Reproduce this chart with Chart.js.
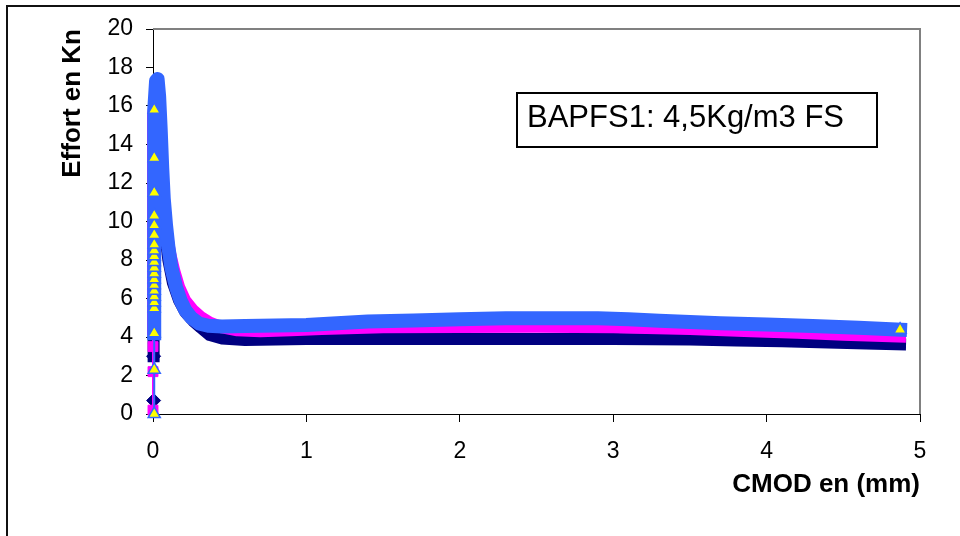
<!DOCTYPE html>
<html><head><meta charset="utf-8">
<script src="https://cdn.jsdelivr.net/npm/chart.js@4.4.1/dist/chart.umd.min.js"></script>
<style>html,body{margin:0;padding:0;background:#fff}#wrap{width:960px;height:536px}</style>
</head><body><div id="wrap"><canvas id="c" width="960" height="536"></canvas></div>
<script>
// Series 1 (navy diamonds)
const cmod1 = [0.004,0.004,0.004,0.004,0.004,0.004,0.015,0.03,0.045,0.06,0.08,0.10,0.13,0.17,0.21,0.26,0.31,0.37,0.45,0.6,0.8,1.0,1.5,2.0,2.5,3.0,3.5,3.8,4.1,4.4,4.65,4.87];
const effort1 = [0.7,3.0,5.5,8.5,11.5,14.0,15.3,15.0,13.2,11.3,9.3,8.0,6.8,5.9,5.3,4.85,4.5,4.1,3.92,3.85,3.87,3.9,3.9,3.9,3.9,3.9,3.87,3.82,3.78,3.72,3.66,3.62];
// Series 2 (magenta squares)
const cmod2 = [0,0,0,0,0,0,0,0,0,0,0.015,0.03,0.045,0.06,0.075,0.09,0.11,0.14,0.17,0.21,0.26,0.31,0.37,0.45,0.55,0.7,0.9,1.1,1.5,2.0,2.5,3.0,3.5,3.9,4.2,4.5,4.87];
const effort2 = [0.2,2.2,3.5,4.4,6.0,8.0,10.0,12.0,14.0,15.6,16.1,15.8,14.0,12.0,10.5,9.4,8.4,7.4,6.6,5.9,5.4,5.05,4.75,4.5,4.35,4.3,4.35,4.42,4.5,4.52,4.53,4.5,4.42,4.3,4.22,4.12,4.02];
// Series 3 (yellow triangles, blue outline)
const cmod3 = [0.008,0.008,0.008,0.008,0.008,0.008,0.008,0.008,0.008,0.008,0.008,0.008,0.008,0.008,0.008,0.008,0.008,0.008,0.008,0.008,0.008,0.02,0.03,0.04,0.05,0.06,0.07,0.085,0.10,0.12,0.15,0.18,0.21,0.25,0.3,0.36,0.45,0.6,0.8,1.0,1.2,1.4,1.7,2.0,2.3,2.6,2.9,3.1,3.3,3.5,3.7,4.0,4.3,4.6,4.87];
const effort3 = [0,2.3,4.2,5.5,5.8,6.1,6.4,6.7,7.0,7.3,7.6,7.9,8.2,8.5,8.8,9.3,9.8,10.3,11.5,13.3,15.8,17.3,17.4,16.5,14.8,12.8,11.2,9.8,8.7,7.6,6.6,5.9,5.4,5.0,4.7,4.58,4.55,4.57,4.6,4.62,4.72,4.8,4.86,4.92,4.97,4.98,4.97,4.92,4.85,4.78,4.72,4.65,4.57,4.48,4.38];

const xTicks = [0,1,2,3,4,5];
const yTicks = [0,2,4,6,8,10,12,14,16,18,20];
const xTitle = 'CMOD en (mm)';
const yTitle = 'Effort en Kn';
const boxLabel = 'BAPFS1: 4,5Kg/m3 FS';

const pts = (xs, ys) => xs.map((x, i) => ({x, y: ys[i]}));
const FONT = '"Liberation Sans", Arial, sans-serif';

const deco = {
  id: 'deco',
  beforeDraw(chart) {
    const ctx = chart.ctx;
    ctx.save();
    ctx.fillStyle = '#fff';
    ctx.fillRect(0, 0, chart.width, chart.height);
    ctx.strokeStyle = '#111';
    ctx.lineWidth = 2;
    ctx.strokeRect(7, 6, chart.width + 40, chart.height + 40);
    ctx.restore();
  },
  beforeDatasetsDraw(chart) {
    const ctx = chart.ctx, a = chart.chartArea;
    ctx.save();
    ctx.strokeStyle = '#808080';
    ctx.lineWidth = 2;
    ctx.beginPath();
    ctx.moveTo(a.left, a.top);
    ctx.lineTo(a.right, a.top);
    ctx.lineTo(a.right, a.bottom);
    ctx.stroke();
    ctx.restore();
  },
  afterDatasetsDraw(chart) {
    const ctx = chart.ctx, a = chart.chartArea;
    const bx = a.left + 364, by = a.top + 64, bw = 360, bh = 54;
    ctx.save();
    ctx.fillStyle = '#fff';
    ctx.fillRect(bx, by, bw, bh);
    ctx.strokeStyle = '#000';
    ctx.lineWidth = 2;
    ctx.strokeRect(bx, by, bw, bh);
    ctx.fillStyle = '#000';
    ctx.font = '31px ' + FONT;
    ctx.textBaseline = 'alphabetic';
    ctx.textAlign = 'left';
    ctx.fillText(boxLabel, bx + 10, by + 34);
    ctx.restore();
  }
};

const thin = (lim) => (ctx) => (ctx.p1.parsed.y < lim && ctx.p1.parsed.x < 0.01) ? 2 : undefined;

new Chart(document.getElementById('c'), {
  type: 'scatter',
  data: {
    datasets: [
      {
        label: 'Série3', data: pts(cmod3, effort3), showLine: true, order: 0, clip: 12,
        borderColor: '#3366FF', borderWidth: 14, borderJoinStyle: 'round', borderCapStyle: 'square',
        pointStyle: 'triangle', backgroundColor: '#FFFF00', pointBorderColor: '#3366FF', pointBorderWidth: 1.5,
        pointRadius: (c) => (cmod3[c.dataIndex] < 0.01 || c.dataIndex === cmod3.length - 1) ? 7 : 0,
        segment: { borderWidth: thin(4.5) }
      },
      {
        label: 'Série2', data: pts(cmod2, effort2), showLine: true, order: 1, clip: 12,
        borderColor: '#FF00FF', borderWidth: 12, borderJoinStyle: 'round', borderCapStyle: 'square',
        pointStyle: 'rect', backgroundColor: '#FF00FF', pointBorderColor: '#FF00FF', pointBorderWidth: 1,
        pointRadius: (c) => (cmod2[c.dataIndex] < 0.005 && effort2[c.dataIndex] < 5) ? 7 : 0,
        segment: { borderWidth: thin(4.5) }
      },
      {
        label: 'Série1', data: pts(cmod1, effort1), showLine: true, order: 2, clip: 12,
        borderColor: '#000080', borderWidth: 12, borderJoinStyle: 'round', borderCapStyle: 'square',
        pointStyle: 'rectRot', backgroundColor: '#000080', pointBorderColor: '#000080', pointBorderWidth: 1,
        pointRadius: (c) => (cmod1[c.dataIndex] < 0.01 && effort1[c.dataIndex] < 4) ? 7 : 0,
        segment: { borderWidth: thin(3.5) }
      }
    ]
  },
  options: {
    responsive: false, animation: false,
    layout: { padding: { left: 0, top: 29, right: 40, bottom: 0 } },
    plugins: { legend: { display: false }, tooltip: { enabled: false } },
    events: [],
    scales: {
      x: {
        type: 'linear', min: 0, max: 5,
        afterBuildTicks: (s) => { s.ticks = xTicks.map(v => ({value: v})); },
        afterFit: (s) => { s.height = 122; },
        grid: { display: true, drawOnChartArea: false, drawTicks: true, tickLength: 8, color: '#000', tickColor: '#000' },
        border: { display: true, color: '#000', width: 1 },
        ticks: { color: '#000', font: { family: FONT, size: 23 }, padding: 16, maxRotation: 0 },
        title: { display: true, text: xTitle, align: 'end', color: '#000', font: { family: FONT, size: 26, weight: 'bold' }, padding: { top: 0, bottom: 36 } }
      },
      y: {
        type: 'linear', min: 0, max: 20,
        afterBuildTicks: (s) => { s.ticks = yTicks.map(v => ({value: v})); },
        afterFit: (s) => { s.width = 153; },
        grid: { display: true, drawOnChartArea: false, drawTicks: true, tickLength: 7, color: '#000', tickColor: '#000' },
        border: { display: true, color: '#000', width: 1 },
        ticks: { color: '#000', font: { family: FONT, size: 23 }, padding: 13 },
        title: { display: true, text: yTitle, align: 'end', color: '#000', font: { family: FONT, size: 26, weight: 'bold' }, padding: { top: 57, bottom: 0 } }
      }
    }
  },
  plugins: [deco]
});
</script>
</body></html>
